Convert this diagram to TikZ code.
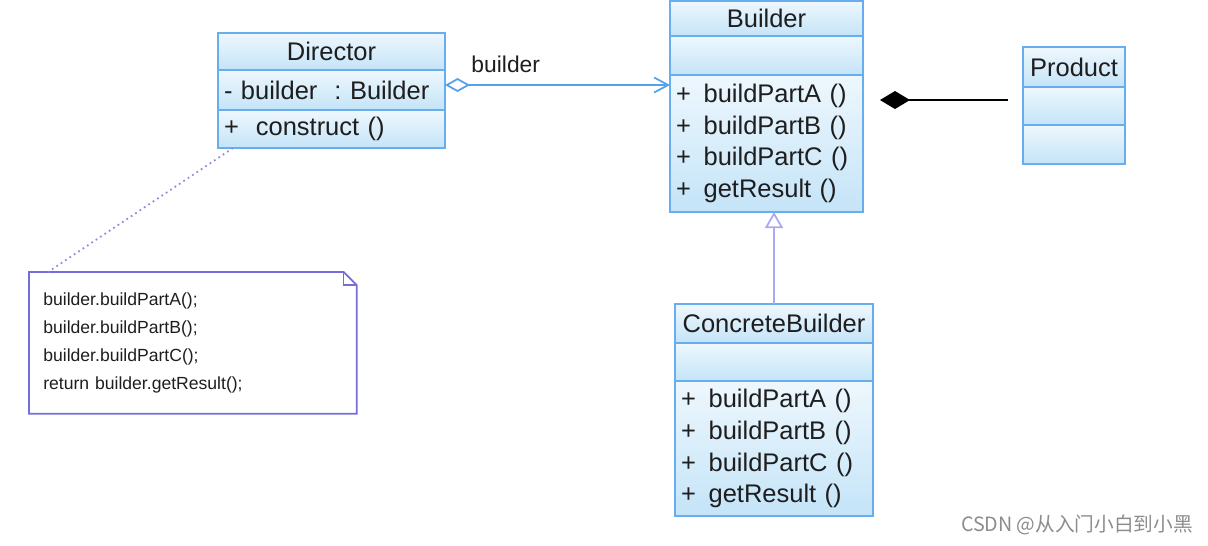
\documentclass[tikz,border=0pt]{standalone}
\usepackage{fontspec}
\setmainfont{Liberation Sans}
\newfontfamily\cjkfont{Noto Sans CJK SC}
\usepackage{xcolor}
\usetikzlibrary{positioning, arrows.meta}

\definecolor{umlline}{RGB}{104,174,238}
\definecolor{umltop}{RGB}{238,247,253}
\definecolor{umlbot}{RGB}{196,228,248}
\definecolor{umltext}{RGB}{30,30,30}
\definecolor{noteline}{RGB}{118,108,222}
\definecolor{genline}{RGB}{170,168,240}
\definecolor{assocline}{RGB}{86,160,238}

\begin{document}
\begin{tikzpicture}[
    % GLOBAL CFG
    font=\fontsize{14.5}{18.1}\selectfont,
    text=umltext,
    % Styles
    part/.style={% one compartment of a class box
        rectangle,
        draw=umlline,
        line width=1pt,
        top color=umltop,
        bottom color=umlbot,
        inner xsep=0.14cm,
        inner ysep=0pt,
        outer sep=0pt,
        },
    title/.style={% class name, centred
        part,
        align=center,
        },
    ops/.style={% attributes and operations, left aligned
        part,
        align=left,
        },
    notebox/.style={% the comment box
        draw=noteline,
        line width=1pt,
        },
    aggr/.style={% association with open diamond
        draw=assocline,
        line width=1pt,
        {Diamond[open, length=0.5cm, width=0.28cm]}-{Straight Barb[length=0.28cm, width=0.3cm]},
        },
    comp/.style={% composition, black diamond
        draw=black,
        line width=1.4pt,
        -{Diamond[length=0.6cm, width=0.36cm]},
        },
    gen/.style={% generalisation
        draw=genline,
        line width=1pt,
        -{Triangle[open, length=0.32cm, width=0.36cm]},
        },
    ]

    \useasboundingbox (0,0) rectangle (24.16,-10.9);

    % Director
    \node [title, anchor=north west, minimum width=4.54cm, text width=4.3cm, inner xsep=0.12cm, minimum height=0.74cm] (dirtitle) at (4.36,-0.66) {Director};
    \node [ops, below=0pt of dirtitle, minimum width=4.54cm, text width=4.3cm, inner xsep=0.12cm, minimum height=0.8cm] (dirattr) {-\ builder\ \ :\ Builder};
    \node [ops, below=0pt of dirattr, minimum width=4.54cm, text width=4.3cm, inner xsep=0.12cm, minimum height=0.76cm] (dirops) {+\ \ construct ()};

    % Builder
    \node [title, anchor=north west, minimum width=3.86cm, text width=3.62cm, inner xsep=0.12cm, minimum height=0.7cm] (btitle) at (13.4,-0.02) {Builder};
    \node [ops, below=0pt of btitle, minimum width=3.86cm, text width=3.62cm, inner xsep=0.12cm, minimum height=0.78cm] (battr) {};
    \node [ops, below=0pt of battr, minimum width=3.86cm, text width=3.62cm, inner xsep=0.12cm, minimum height=2.74cm] (bops)
        {+\enspace buildPartA ()\\+\enspace buildPartB ()\\+\enspace buildPartC ()\\+\enspace getResult ()};

    % ConcreteBuilder
    \node [title, anchor=north west, minimum width=3.96cm, text width=3.86cm, inner xsep=0.05cm, minimum height=0.78cm] (cbtitle) at (13.5,-6.08) {ConcreteBuilder};
    \node [ops, below=0pt of cbtitle, minimum width=3.96cm, text width=3.72cm, inner xsep=0.12cm, minimum height=0.76cm] (cbattr) {};
    \node [ops, below=0pt of cbattr, minimum width=3.96cm, text width=3.72cm, inner xsep=0.12cm, minimum height=2.7cm] (cbops)
        {+\enspace buildPartA ()\\+\enspace buildPartB ()\\+\enspace buildPartC ()\\+\enspace getResult ()};

    % Product
    \node [title, anchor=north west, minimum width=2.04cm, text width=1.96cm, inner xsep=0.04cm, minimum height=0.8cm] (ptitle) at (20.46,-0.94) {Product};
    \node [ops, below=0pt of ptitle, minimum width=2.04cm, text width=1.7cm, minimum height=0.76cm] (pattr) {};
    \node [ops, below=0pt of pattr, minimum width=2.04cm, text width=1.7cm, minimum height=0.78cm] (pops) {};

    % Note
    \node [anchor=north west, minimum width=6.54cm, minimum height=2.82cm, text width=5.98cm, inner xsep=0.28cm, align=left,
        font=\fontsize{10}{15.9}\selectfont] (note) at (0.58,-5.44)
        {builder.buildPartA();\\builder.buildPartB();\\builder.buildPartC();\\return builder.getResult();};
    \draw [notebox] (note.north west) -- ([xshift=-0.26cm]note.north east) -- ([yshift=-0.26cm]note.north east)
        -- (note.south east) -- (note.south west) -- cycle;
    \draw [notebox, line width=0.6pt] ([xshift=-0.26cm]note.north east) |- ([yshift=-0.26cm]note.north east);

    % Connectors
    \draw [aggr] ([yshift=0.1cm]dirattr.east) -- ([yshift=0.1cm]dirattr.east -| bops.west)
        node [pos=0.27, above=3pt, font=\fontsize{13}{15}\selectfont] {builder};
    \draw [comp, shorten <=0.3cm, shorten >=0.34cm] ([yshift=0.12cm]pattr.west) -- ([yshift=0.12cm]pattr.west -| bops.east);
    \draw [gen] (cbtitle.north) -- (cbtitle.north |- bops.south);
    \draw [noteline!80, line width=1pt, dotted] ([xshift=0.3cm]dirops.south west) -- ([xshift=0.38cm]note.north west);

    % watermark
    \node [text=black!45, font=\cjkfont\fontsize{11.2}{14}\selectfont] (mark) at (21.54,-10.5) {CSDN @从入门小白到小黑};

\end{tikzpicture}
\end{document}
